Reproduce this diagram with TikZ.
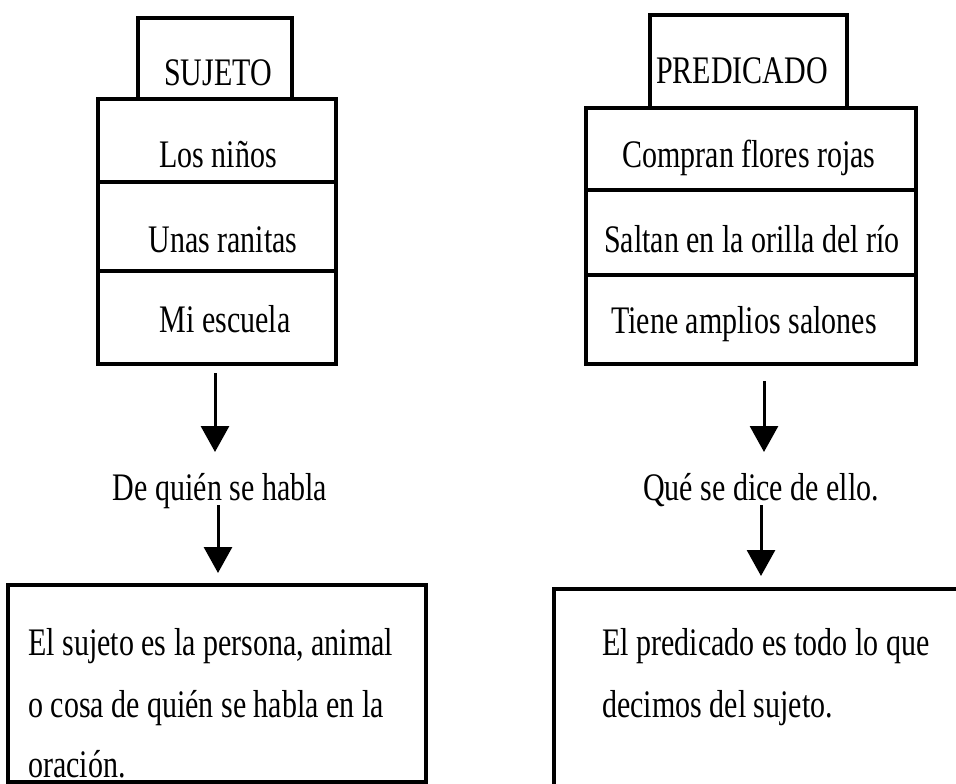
\documentclass[tikz,border=0pt]{standalone}
\usepackage{fontspec}
\setmainfont{Liberation Serif}
\usetikzlibrary{arrows.meta}
\newcommand{\vt}[1]{\scalebox{1}[1.3]{#1}}
\tikzset{
  cell/.style={draw, line width=4pt, inner sep=0pt, fill=none},
  lbl/.style={inner sep=0pt, font=\fontsize{30}{36}\selectfont},
  arr/.style={line width=3pt, -{Triangle[width=28pt,length=26pt]}},
}
\begin{document}
\begin{tikzpicture}[x=1pt,y=-1pt]
\useasboundingbox (0,0) rectangle (956,784);
\fill[white] (0,0) rectangle (956,784);
\begin{scope}
\clip (0,0) rectangle (956,784);
% left column
\node[cell, minimum width=154pt, minimum height=81pt] (sh) at (215,58.5) {};
\node[cell, minimum width=238pt, minimum height=83pt] (s1) at (217,140.5) {};
\node[cell, minimum width=238pt, minimum height=89pt] (s2) at (217,226.5) {};
\node[cell, minimum width=238pt, minimum height=93pt] (s3) at (217,317.5) {};
\node[lbl, anchor=base] (tsh) at (218,85) {\vt{SUJETO}};
\node[lbl, anchor=base] (ts1) at (218,167) {\vt{Los niños}};
\node[lbl, anchor=base] (ts2) at (223,252) {\vt{Unas ranitas}};
\node[lbl, anchor=base] (ts3) at (225,332) {\vt{Mi escuela}};
\node[lbl, anchor=base] (sq) at (220,500) {\vt{De quién se habla}};
\node[cell, minimum width=418pt, minimum height=197pt] (sb) at (217,683.5) {};
\node[lbl, anchor=base west] (sb1) at (28,655) {\vt{El sujeto es la persona, animal}};
\node[lbl, anchor=base west] (sb2) at (28,717) {\vt{o cosa de quién se habla en la}};
\node[lbl, anchor=base west] (sb3) at (28,777) {\vt{oración.}};
\coordinate (la1) at (215,452);
\coordinate (la2) at (218,505);
\draw[arr, shorten <=7pt] (s3.south -| la1) -- (la1);
\draw[arr, shorten >=10pt] (la2) -- (sb.north -| la2);
% right column
\node[cell, minimum width=197pt, minimum height=93pt] (ph) at (748.5,61.5) {};
\node[cell, minimum width=330pt, minimum height=82pt] (p1) at (751,149) {};
\node[cell, minimum width=330pt, minimum height=85pt] (p2) at (751,232.5) {};
\node[cell, minimum width=330pt, minimum height=89pt] (p3) at (751,319.5) {};
\node[lbl, anchor=base] (tph) at (742,84) {\vt{PREDICADO}};
\node[lbl, anchor=base] (tp1) at (749,167) {\vt{Compran flores rojas}};
\node[lbl, anchor=base] (tp2) at (752,252) {\vt{Saltan en la orilla del río}};
\node[lbl, anchor=base] (tp3) at (744,333) {\vt{Tiene amplios salones}};
\node[lbl, anchor=base] (pq) at (761,500) {\vt{Qué se dice de ello.}};
\node[cell, minimum width=436pt, minimum height=241pt] (pb) at (772,709.5) {};
\node[lbl, anchor=base west] (pb1) at (602,655) {\vt{El predicado es todo lo que}};
\node[lbl, anchor=base west] (pb2) at (602,717) {\vt{decimos del sujeto.}};
\coordinate (ra1) at (764,452);
\coordinate (ra2) at (761,505);
\draw[arr, shorten <=15pt] (p3.south -| ra1) -- (ra1);
\draw[arr, shorten >=11pt] (ra2) -- (pb.north -| ra2);
\end{scope}
\end{tikzpicture}
\end{document}
